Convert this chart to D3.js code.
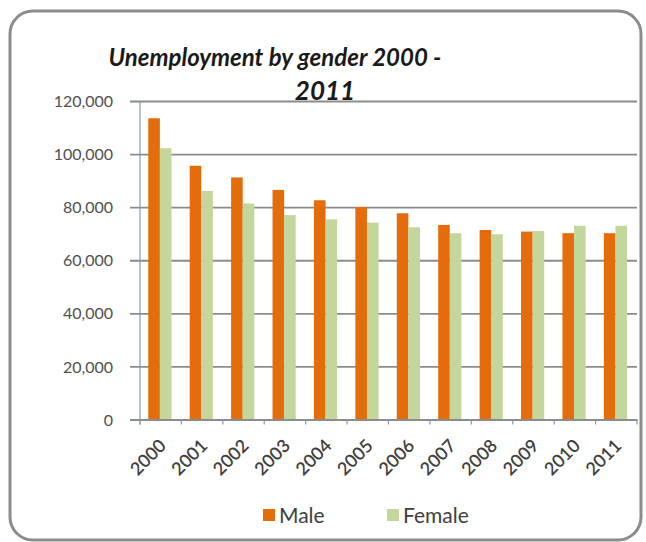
<!DOCTYPE html>
<html>
<head>
<meta charset="utf-8">
<script src="https://cdn.jsdelivr.net/npm/d3@7"></script>
<style>
  html, body { margin: 0; padding: 0; background: #fff; }
  svg { display: block; }
  text { font-family: Lato, "Open Sans", sans-serif; }
</style>
</head>
<body>
<svg id="chart" width="646" height="542"></svg>
<script>
// Unemployment counts by gender, 2000-2011
const years = ["2000","2001","2002","2003","2004","2005","2006","2007","2008","2009","2010","2011"];
const series = ["Male", "Female"];
const male   = [113500, 95600, 91200, 86500, 82600, 80000, 77700, 73300, 71400, 70800, 70200, 70200];
const female = [102200, 86100, 81400, 77000, 75400, 74200, 72400, 70200, 69800, 71000, 73000, 73000];
const yTicks = [0, 20000, 40000, 60000, 80000, 100000, 120000];
const colors = { Male: "#E46C0A", Female: "#C3D69B" };

const svg = d3.select("#chart");

// outer frame with rounded corners
svg.append("rect")
  .attr("x", 10).attr("y", 11)
  .attr("width", 631).attr("height", 529)
  .attr("rx", 23).attr("ry", 23)
  .attr("fill", "#fff")
  .attr("stroke", "#8c8c8c")
  .attr("stroke-width", 3);

const plot = { left: 140, right: 637, top: 101, bottom: 419.5 };

const y = d3.scaleLinear().domain([0, 120000]).range([plot.bottom, plot.top]);
const x = d3.scaleBand().domain(years).range([plot.left, plot.right]).padding(0);
const step = x.step();
const xs = d3.scaleBand().domain(series).range([step * 0.2, step * 0.76]).padding(0);

// horizontal gridlines with outside tick marks
const yAxis = d3.axisLeft(y)
  .tickValues(yTicks)
  .tickSize(-(plot.right - plot.left))
  .tickPadding(0)
  .tickFormat(d3.format(","));

const gy = svg.append("g")
  .attr("transform", `translate(${plot.left},0)`)
  .call(yAxis);
gy.select(".domain").remove();
gy.selectAll(".tick line")
  .attr("x1", -10)
  .attr("stroke", "#8c8c8c")
  .attr("stroke-width", 1.8);
gy.selectAll(".tick text")
  .attr("x", -27)
  .attr("dy", "0.35em")
  .attr("fill", "#505050")
  .style("font-size", "16px");

// bars
const rows = years.map((yr, i) => ({ year: yr, Male: male[i], Female: female[i] }));
const groups = svg.append("g").selectAll("g")
  .data(rows).join("g")
  .attr("transform", d => `translate(${x(d.year)},0)`);
groups.selectAll("rect")
  .data(d => series.map(s => ({ s, v: d[s] })))
  .join("rect")
  .attr("x", d => xs(d.s))
  .attr("width", xs.bandwidth())
  .attr("y", d => y(d.v))
  .attr("height", d => y(0) - y(d.v))
  .attr("fill", d => colors[d.s]);

// vertical axis line
svg.append("line")
  .attr("x1", plot.left).attr("x2", plot.left)
  .attr("y1", plot.top).attr("y2", plot.bottom + 5)
  .attr("stroke", "#8797b5").attr("stroke-width", 1.2);

// category axis
const xAxis = d3.axisBottom(x).tickSize(0).tickPadding(0);
const gx = svg.append("g")
  .attr("transform", `translate(0,${plot.bottom})`)
  .call(xAxis);
gx.select(".domain").attr("stroke", "#8c8c8c").attr("stroke-width", 1.8);
// tick marks at category boundaries
gx.selectAll(".bound")
  .data(years.concat(["end"]))
  .join("line")
  .attr("class", "bound")
  .attr("x1", (d, i) => plot.left + i * step)
  .attr("x2", (d, i) => plot.left + i * step)
  .attr("y1", 0).attr("y2", 5)
  .attr("stroke", "#8797b5").attr("stroke-width", 1.2);
gx.selectAll(".tick text")
  .attr("text-anchor", "end")
  .attr("fill", "#404040")
  .style("font-size", "18px")
  .style("font-weight", "600")
  .attr("transform", "translate(2,23) rotate(-45)")
  .attr("dy", "0.35em")
  .attr("y", 0);

// title
const title = svg.append("text")
  .attr("text-anchor", "middle")
  .attr("fill", "#1a1a1a")
  .style("font-size", "24px")
  .style("font-weight", "bold")
  .style("font-style", "italic");
title.append("tspan").attr("x", 275).attr("y", 66).text("Unemployment by gender 2000 -");
title.append("tspan").attr("x", 325).attr("y", 100).style("font-size", "26px").text("2011");

// legend
const legend = svg.append("g");
const legendItems = [{ s: "Male", x: 263 }, { s: "Female", x: 387 }];
legendItems.forEach(it => {
  legend.append("rect")
    .attr("x", it.x).attr("y", 509)
    .attr("width", 12).attr("height", 12)
    .attr("fill", colors[it.s]);
  legend.append("text")
    .attr("x", it.x + 16).attr("y", 523)
    .attr("fill", "#404040")
    .style("font-size", "21px")
    .text(it.s);
});
</script>
</body>
</html>
